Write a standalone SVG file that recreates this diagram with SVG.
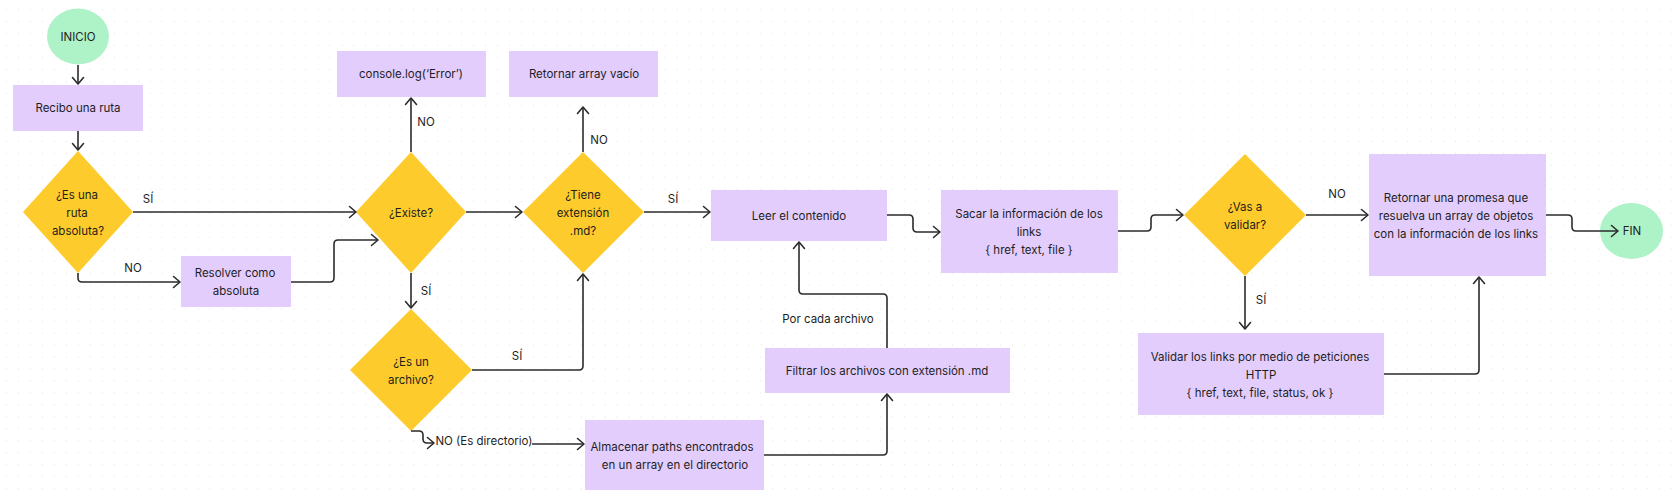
<svg xmlns="http://www.w3.org/2000/svg" width="1678" height="499" viewBox="0 0 1678 499">
<defs>
<pattern id="dots" x="6" y="9.2" width="11.975" height="11.975" patternUnits="userSpaceOnUse">
<rect x="-0.7" y="-0.7" width="1.4" height="1.4" fill="#c4c4c4"/>
</pattern>
<marker id="arr" viewBox="-10 -7 12 14" refX="0" refY="0" markerWidth="12" markerHeight="14" markerUnits="userSpaceOnUse" orient="auto">
<path d="M-6.5,-5.5 L0,0 L-6.5,5.5" fill="none" stroke="#2b2b2b" stroke-width="1.6" stroke-linecap="round" stroke-linejoin="round"/>
</marker>
<style>
.t{font-family:Inter,"Liberation Sans",sans-serif;font-size:11.5px;fill:#1e1e1e;text-anchor:middle;dominant-baseline:central}
.box{fill:#e3cdfd}
.dia{fill:#fdcb2b}
.ell{fill:#aef2c8}
.c{fill:none;stroke:#2b2b2b;stroke-width:1.6;marker-end:url(#arr)}
</style>
</defs>
<rect width="1678" height="499" fill="#ffffff"/>
<rect width="1678" height="499" fill="url(#dots)"/>

<g id="n-inicio"><ellipse class="ell" cx="78" cy="36.5" rx="31" ry="28"/><text class="t" x="78" y="36.5">INICIO</text></g>
<g id="n-recibo"><rect class="box" x="13" y="85" width="130" height="46"/><text class="t" x="78" y="108">Recibo una ruta</text></g>
<g id="n-absoluta"><polygon class="dia" points="78,151 133,212 78,273 23,212"/><text class="t" x="77" y="194.5">¿Es una</text><text class="t" x="77" y="212.5">ruta</text><text class="t" x="78" y="230.5">absoluta?</text></g>
<g id="n-resolver"><rect class="box" x="181" y="256" width="110" height="51"/><text class="t" x="235" y="273">Resolver como</text><text class="t" x="236" y="291">absoluta</text></g>
<g id="n-existe"><polygon class="dia" points="411,152 466,212 411,273 356,212"/><text class="t" x="411" y="212.5">¿Existe?</text></g>
<g id="n-error"><rect class="box" x="337" y="51" width="149" height="46"/><text class="t" x="411" y="74">console.log(‘Error’)</text></g>
<g id="n-vacio"><rect class="box" x="509" y="51" width="149" height="46"/><text class="t" x="584" y="74">Retornar array vacío</text></g>
<g id="n-extension"><polygon class="dia" points="583,152 644,212 583,273 523,212"/><text class="t" x="583" y="195">¿Tiene</text><text class="t" x="583" y="213">extensión</text><text class="t" x="583" y="231">.md?</text></g>
<g id="n-leer"><rect class="box" x="711" y="190" width="176" height="51"/><text class="t" x="799" y="216">Leer el contenido</text></g>
<g id="n-sacar"><rect class="box" x="941" y="190" width="177" height="83"/><text class="t" x="1029" y="214">Sacar la información de los</text><text class="t" x="1029" y="232">links</text><text class="t" x="1029" y="250">{ href, text, file }</text></g>
<g id="n-archivo"><polygon class="dia" points="411,309 472,370 411,431 350,370"/><text class="t" x="411" y="362">¿Es un</text><text class="t" x="411" y="380">archivo?</text></g>
<g id="n-dirlabel"><text class="t" x="484" y="441">NO (Es directorio)</text></g>
<g id="n-almacenar"><rect class="box" x="585" y="420" width="179" height="70"/><text class="t" x="672" y="447">Almacenar paths encontrados</text><text class="t" x="675" y="465">en un array en el directorio</text></g>
<g id="n-filtrar"><rect class="box" x="765" y="348" width="245" height="45"/><text class="t" x="887" y="371">Filtrar los archivos con extensión .md</text></g>
<g id="n-validar-q"><polygon class="dia" points="1245,154 1306,215 1245,276 1184,215"/><text class="t" x="1245" y="207">¿Vas a</text><text class="t" x="1245" y="225">validar?</text></g>
<g id="n-promesa"><rect class="box" x="1369" y="154" width="177" height="122"/><text class="t" x="1456" y="198">Retornar una promesa que</text><text class="t" x="1456" y="216">resuelva un array de objetos</text><text class="t" x="1456" y="234">con la información de los links</text></g>
<g id="n-validar"><rect class="box" x="1138" y="333" width="246" height="82"/><text class="t" x="1260" y="357">Validar los links por medio de peticiones</text><text class="t" x="1261" y="375">HTTP</text><text class="t" x="1260" y="393">{ href, text, file, status, ok }</text></g>
<g id="n-fin"><ellipse class="ell" cx="1631.5" cy="231" rx="31.5" ry="28"/><text class="t" x="1632" y="231">FIN</text></g>

<g id="connectors">
<path class="c" d="M78,65 L78,84"/>
<path class="c" d="M78,131 L78,150"/>
<path class="c" d="M133,212 L356,212"/>
<path class="c" d="M78,273 L78,278 Q78,282 82,282 L180,282"/>
<path class="c" d="M291,282 L330,282 Q334,282 334,278 L334,244 Q334,240 338,240 L378,240"/>
<path class="c" d="M411,152 L411,98"/>
<path class="c" d="M466,212 L522,212"/>
<path class="c" d="M411,273 L411,308"/>
<path class="c" d="M583,152 L583,107"/>
<path class="c" d="M644,212 L710,212"/>
<path class="c" d="M472,370 L579,370 Q583,370 583,366 L583,274"/>
<path class="c" d="M411,431 L419,431 Q423,431 423,435 L423,439 Q423,443 427,443 L434,443"/>
<path class="c" d="M532,444 L584,444"/>
<path class="c" d="M764,455 L883,455 Q887,455 887,451 L887,394"/>
<path class="c" d="M887,348 L887,298 Q887,294 883,294 L803,294 Q799,294 799,290 L799,242"/>
<path class="c" d="M887,215 L909,215 Q913,215 913,219 L913,228 Q913,232 917,232 L940,232"/>
<path class="c" d="M1118,231 L1147,231 Q1151,231 1151,227 L1151,219 Q1151,215 1155,215 L1183,215"/>
<path class="c" d="M1306,215 L1368,215"/>
<path class="c" d="M1245,276 L1245,329"/>
<path class="c" d="M1384,374 L1475,374 Q1479,374 1479,370 L1479,277"/>
<path class="c" d="M1546,215 L1568,215 Q1572,215 1572,219 L1572,227 Q1572,231 1576,231 L1618,231"/>
<text class="t" x="148" y="199">SÍ</text>
<text class="t" x="133" y="268">NO</text>
<text class="t" x="426" y="122">NO</text>
<text class="t" x="426" y="291">SÍ</text>
<text class="t" x="599" y="140">NO</text>
<text class="t" x="673" y="199">SÍ</text>
<text class="t" x="517" y="356">SÍ</text>
<text class="t" x="828" y="319">Por cada archivo</text>
<text class="t" x="1337" y="194">NO</text>
<text class="t" x="1261" y="300">SÍ</text>
</g>
</svg>
